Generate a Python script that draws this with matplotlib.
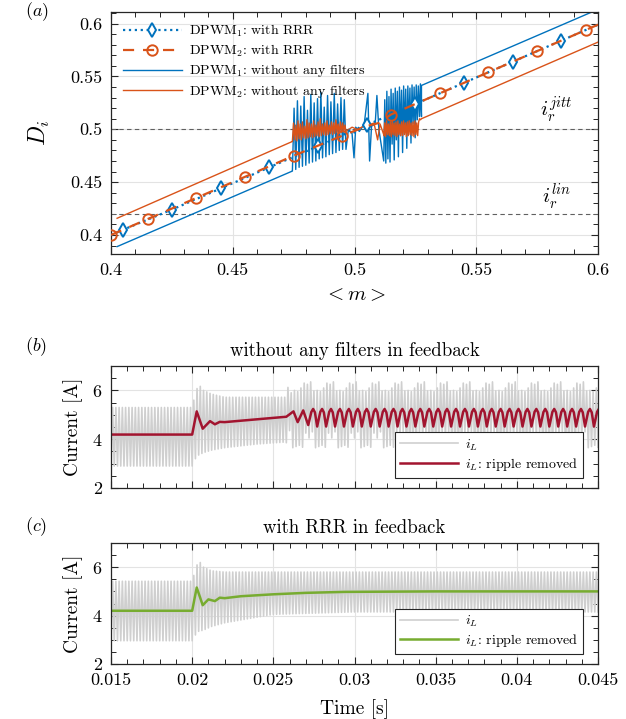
import numpy as np
import matplotlib.pyplot as plt
from matplotlib.ticker import MultipleLocator, FuncFormatter

plt.rcParams['font.family'] = 'serif'
plt.rcParams['font.serif'] = ['cmr10', 'DejaVu Serif']
plt.rcParams['mathtext.fontset'] = 'cm'
plt.rcParams['axes.formatter.use_mathtext'] = True
plt.rcParams['axes.unicode_minus'] = False

blue = '#0072BD'
orange = '#D95319'
red = '#A2142F'
green = '#77AC30'
grey_il = '#CFCFCF'
ink = '#262626'

# ---------------- (a) duty cycle vs <m> ----------------
m_rrr1 = [0.400, 0.405, 0.425, 0.445, 0.465, 0.485, 0.495, 0.498, 0.500, 0.502, 0.505, 0.525, 0.545, 0.565, 0.585, 0.600]
d_rrr1 = [0.400, 0.405, 0.424, 0.444, 0.464, 0.484, 0.494, 0.499, 0.497, 0.502, 0.504, 0.524, 0.544, 0.564, 0.584, 0.599]
mk_rrr1 = [1, 2, 3, 4, 5, 10, 11, 12, 13, 14]

m_rrr2 = [0.400, 0.415, 0.435, 0.455, 0.475, 0.495, 0.505, 0.510, 0.515, 0.535, 0.555, 0.575, 0.595, 0.600]
d_rrr2 = [0.400, 0.415, 0.435, 0.455, 0.475, 0.494, 0.503, 0.506, 0.514, 0.534, 0.554, 0.574, 0.594, 0.599]
mk_rrr2 = [0, 1, 2, 3, 4, 5, 8, 9, 10, 11, 12]

# DPWM1 without filters: ramp, chatter, ramp
b_ramp1_m = [0.4025, 0.4745]
b_ramp1_d = [0.3890, 0.4605]
b_ch1_span = (0.4745, 0.4965)
b_ch1_hi = [0.520, 0.527, 0.522, 0.531, 0.518, 0.533, 0.525, 0.529, 0.535, 0.521, 0.532, 0.526, 0.534, 0.524, 0.530, 0.528]
b_ch1_lo = [0.461, 0.462, 0.464, 0.465, 0.466, 0.468, 0.469, 0.470, 0.472, 0.473, 0.474, 0.476, 0.477, 0.478, 0.480, 0.481]
b_mid_m = [0.4965, 0.4975, 0.4990, 0.4998, 0.5005, 0.5020, 0.5040, 0.5055, 0.5062, 0.5070, 0.5085, 0.5092, 0.5100, 0.5120]
b_mid_d = [0.481, 0.500, 0.496, 0.473, 0.502, 0.498, 0.505, 0.534, 0.470, 0.503, 0.505, 0.532, 0.500, 0.470]
b_ch2_span = (0.5120, 0.5275)
b_ch2_hi = [0.528, 0.536, 0.531, 0.538, 0.534, 0.539, 0.536, 0.540, 0.537, 0.541, 0.538, 0.541, 0.539, 0.542, 0.540, 0.542, 0.541, 0.543]
b_ch2_lo = [0.470, 0.468, 0.472, 0.469, 0.486, 0.471, 0.490, 0.474, 0.494, 0.478, 0.497, 0.482, 0.500, 0.487, 0.505, 0.492, 0.509, 0.512]
b_ramp2_m = [0.5275, 0.6000]
b_ramp2_d = [0.5415, 0.6135]

# DPWM2 without filters
o_ramp1_m = [0.4025, 0.4745]
o_ramp1_d = [0.4158, 0.4885]
o_ch1_span = (0.4745, 0.4965)
o_ch1_hi = [0.506, 0.504, 0.508, 0.505, 0.507, 0.503, 0.509, 0.506, 0.505, 0.508, 0.504, 0.507, 0.510, 0.505, 0.506, 0.508, 0.504, 0.507, 0.506, 0.509, 0.505, 0.507, 0.506, 0.504]
o_ch1_lo = [0.489, 0.490, 0.489, 0.491, 0.490, 0.492, 0.491, 0.492, 0.493, 0.492, 0.493, 0.494, 0.493, 0.494, 0.495, 0.494, 0.495, 0.496, 0.495, 0.496, 0.497, 0.496, 0.497, 0.498]
o_mid_m = [0.4965, 0.4990, 0.5010, 0.5040, 0.5060, 0.5080, 0.5095, 0.5105, 0.5120]
o_mid_d = [0.498, 0.502, 0.500, 0.503, 0.504, 0.506, 0.490, 0.505, 0.495]
o_ch2_span = (0.5120, 0.5275)
o_ch2_hi = [0.506, 0.508, 0.505, 0.507, 0.508, 0.506, 0.507, 0.508, 0.505, 0.507, 0.508, 0.506, 0.507, 0.508, 0.506, 0.507, 0.508, 0.506, 0.507, 0.509]
o_ch2_lo = [0.494, 0.493, 0.495, 0.494, 0.493, 0.495, 0.494, 0.493, 0.495, 0.494, 0.494, 0.495, 0.493, 0.494, 0.495, 0.494, 0.493, 0.495, 0.494, 0.510]
o_ramp2_m = [0.5275, 0.6000]
o_ramp2_d = [0.5100, 0.5825]

ir_jitt = 0.50
ir_lin = 0.42

# ---------------- (b), (c) inductor current ----------------
t_sw_half = 0.0001   # one stroke of the switching ripple

il_b_t = [0.0150, 0.0200, 0.0202, 0.0204, 0.0207, 0.0212, 0.0220, 0.0240, 0.0257, 0.0262, 0.0450]
il_b_top = [5.30, 5.30, 5.90, 6.25, 6.00, 5.85, 5.72, 5.72, 5.72, 6.10, 6.10]
il_b_bot = [2.90, 2.90, 3.20, 3.35, 3.45, 3.55, 3.65, 3.80, 3.88, 3.75, 3.75]
il_b_osc_top = [0.20, -0.10, 0.15, -0.15, 0.25, 0.00, -0.12]
il_b_osc_bot = [-0.10, 0.50, -0.05, 0.30, 0.00, 0.55, -0.08]

ir_b_t = [0.0150, 0.0200, 0.02028, 0.02065, 0.0211, 0.0214, 0.0217, 0.0220, 0.0258, 0.02624, 0.0265, 0.02684, 0.02715]
ir_b_v = [4.19, 4.19, 5.14, 4.43, 4.74, 4.61, 4.71, 4.70, 4.92, 5.14, 4.70, 5.18, 4.58]
ir_b_osc_period = 0.00055
ir_b_osc_phase = [0.35, 0.55, 0.75, 1.0]
ir_b_osc_v = [5.12, 5.24, 5.10, 4.52]

il_c_t = [0.0150, 0.0200, 0.0202, 0.0204, 0.0207, 0.0212, 0.0220, 0.0250, 0.0300, 0.0450]
il_c_top = [5.42, 5.42, 5.90, 6.29, 6.00, 5.85, 5.80, 5.80, 5.80, 5.80]
il_c_bot = [2.96, 2.96, 3.20, 3.35, 3.40, 3.55, 3.70, 4.05, 4.15, 4.15]

ir_c_t = [0.0150, 0.0200, 0.02028, 0.02065, 0.0210, 0.0214, 0.0217, 0.0220, 0.0230, 0.0250, 0.0270, 0.0294, 0.0350, 0.0450]
ir_c_v = [4.20, 4.20, 5.16, 4.43, 4.67, 4.60, 4.74, 4.72, 4.80, 4.88, 4.94, 4.98, 5.00, 5.00]


def chatter(span, hi, lo):
    # zigzag between the read low and high values across the span
    n = len(hi)
    xs = np.linspace(span[0], span[1], 2 * n + 1)
    ys = [lo[0]]
    for k in range(n):
        ys += [hi[k], lo[min(k + 1, n - 1)]]
    return xs, np.array(ys)


def ripple(t_env, top_env, bot_env, osc_top=None, osc_bot=None, t_osc=None):
    t = np.arange(t_env[0], t_env[-1] + 1e-9, t_sw_half)
    top = np.interp(t, t_env, top_env)
    bot = np.interp(t, t_env, bot_env)
    if osc_top is not None:
        k = np.arange(len(t))
        on = t > t_osc
        top = top + on * np.array(osc_top)[k % len(osc_top)]
        bot = bot + on * np.array(osc_bot)[k % len(osc_bot)]
    y = np.where(np.arange(len(t)) % 2 == 0, bot, top)
    return t, y


def build_series(pieces):
    xs = np.concatenate([np.asarray(p[0]) for p in pieces])
    ys = np.concatenate([np.asarray(p[1]) for p in pieces])
    return xs, ys


fig = plt.figure(figsize=(6.26, 7.19), dpi=100)
W, H = 626, 719
ax_a = fig.add_axes([111 / W, 1 - 254 / H, 487 / W, 242 / H])
ax_b = fig.add_axes([111 / W, 1 - 488 / H, 487 / W, 122 / H])
ax_c = fig.add_axes([111 / W, 1 - 664 / H, 487 / W, 121 / H])

fmt_g = FuncFormatter(lambda v, p: '%g' % round(v, 6))


def style(ax):
    ax.tick_params(which='both', direction='in', top=True, right=True,
                   color=ink, labelsize=13, pad=6)
    ax.tick_params(which='major', length=5, width=0.8)
    ax.tick_params(which='minor', length=3.5, width=0.7)
    for s in ax.spines.values():
        s.set_color(ink)
        s.set_linewidth(0.9)
    ax.grid(True, which='major', color='#E3E3E3', lw=0.8)
    ax.set_axisbelow(True)


# ---- (a)
style(ax_a)
ax_a.axhline(ir_jitt, color='#606060', lw=0.8, ls=(0, (4, 3)), zorder=1)
ax_a.axhline(ir_lin, color='#606060', lw=0.8, ls=(0, (4, 3)), zorder=1)

bx, by = build_series([(b_ramp1_m, b_ramp1_d), chatter(b_ch1_span, b_ch1_hi, b_ch1_lo),
                       (b_mid_m, b_mid_d), chatter(b_ch2_span, b_ch2_hi, b_ch2_lo),
                       (b_ramp2_m, b_ramp2_d)])
ox, oy = build_series([(o_ramp1_m, o_ramp1_d), chatter(o_ch1_span, o_ch1_hi, o_ch1_lo),
                       (o_mid_m, o_mid_d), chatter(o_ch2_span, o_ch2_hi, o_ch2_lo),
                       (o_ramp2_m, o_ramp2_d)])

l3, = ax_a.plot(bx, by, color=blue, lw=1.0, zorder=2)
l4, = ax_a.plot(ox, oy, color=orange, lw=1.0, zorder=3)
l1, = ax_a.plot(m_rrr1, d_rrr1, color=blue, lw=1.6, ls=':', marker='d', ms=7.5,
                mfc='white', mew=1.4, markevery=mk_rrr1, zorder=4)
l2, = ax_a.plot(m_rrr2, d_rrr2, color=orange, lw=1.6, ls=(0, (5, 4)), marker='o', ms=7.5,
                mfc='none', mew=1.4, markevery=mk_rrr2, zorder=5)

ax_a.set_xlim(0.4, 0.6)
ax_a.set_ylim(0.382, 0.611)
ax_a.xaxis.set_major_locator(MultipleLocator(0.05))
ax_a.xaxis.set_minor_locator(MultipleLocator(0.01))
ax_a.yaxis.set_major_locator(MultipleLocator(0.05))
ax_a.yaxis.set_minor_locator(MultipleLocator(0.01))
ax_a.xaxis.set_major_formatter(fmt_g)
ax_a.yaxis.set_major_formatter(fmt_g)
ax_a.set_xlabel(r'$<m>$', fontsize=15)
ax_a.xaxis.set_label_coords(0.5, -0.135)
ax_a.set_ylabel(r'$D_i$', fontsize=17)
ax_a.yaxis.set_label_coords(-0.122, 0.5)
ax_a.text(0.583, 0.518, r'$i_r^{jitt}$', fontsize=15, ha='center', va='center')
ax_a.text(0.583, 0.436, r'$i_r^{lin}$', fontsize=15, ha='center', va='center')
ax_a.legend([l1, l2, l3, l4],
            [r'DPWM$_1$: with RRR', r'DPWM$_2$: with RRR',
             r'DPWM$_1$: without any filters', r'DPWM$_2$: without any filters'],
            loc='upper left', bbox_to_anchor=(0.008, 0.99), frameon=False, fontsize=10,
            handlelength=4.2, handletextpad=0.5, labelspacing=0.25, borderaxespad=0.2)

# ---- (b)
style(ax_b)
tb, yb = ripple(il_b_t, il_b_top, il_b_bot, il_b_osc_top, il_b_osc_bot, 0.0258)
rb_t = list(ir_b_t)
rb_v = list(ir_b_v)
for t0 in np.arange(ir_b_t[-1], 0.0450, ir_b_osc_period):
    for ph, v in zip(ir_b_osc_phase, ir_b_osc_v):
        if t0 + ph * ir_b_osc_period <= 0.0451:
            rb_t.append(t0 + ph * ir_b_osc_period)
            rb_v.append(v)
ax_b.plot(tb, yb, color=grey_il, lw=1.2, label=r'$i_L$')
ax_b.plot(rb_t, rb_v, color=red, lw=1.8, label=r'$i_L$: ripple removed')
ax_b.set_title('without any filters in feedback', fontsize=13.5, pad=7)

# ---- (c)
style(ax_c)
tc, yc = ripple(il_c_t, il_c_top, il_c_bot)
ax_c.plot(tc, yc, color=grey_il, lw=1.2, label=r'$i_L$')
ax_c.plot(ir_c_t, ir_c_v, color=green, lw=1.8, label=r'$i_L$: ripple removed')
ax_c.set_title('with RRR in feedback', fontsize=13.5, pad=7)

for ax in (ax_b, ax_c):
    ax.set_xlim(0.015, 0.045)
    ax.set_ylim(2, 7)
    ax.xaxis.set_major_locator(MultipleLocator(0.005))
    ax.xaxis.set_minor_locator(MultipleLocator(0.001))
    ax.yaxis.set_major_locator(MultipleLocator(2))
    ax.yaxis.set_minor_locator(MultipleLocator(0.5))
    ax.xaxis.set_major_formatter(fmt_g)
    ax.set_ylabel('Current [A]', fontsize=14)
    ax.yaxis.set_label_coords(-0.058, 0.5)
    leg = ax.legend(loc='lower right', bbox_to_anchor=(0.969, 0.082), fontsize=10,
                    fancybox=False, framealpha=1, edgecolor=ink, handlelength=4.2,
                    handletextpad=0.5, labelspacing=0.25, borderpad=0.35, borderaxespad=0)
    leg.get_frame().set_linewidth(0.8)

ax_b.tick_params(labelbottom=False)
ax_c.set_xlabel('Time [s]', fontsize=14)
ax_c.xaxis.set_label_coords(0.5, -0.29)

fig.text(25 / W, 1 - 12 / H, r'$(a)$', fontsize=13, ha='left', va='center')
fig.text(25 / W, 1 - 347 / H, r'$(b)$', fontsize=13, ha='left', va='center')
fig.text(25 / W, 1 - 527 / H, r'$(c)$', fontsize=13, ha='left', va='center')

fig.savefig('out.png', dpi=100)
